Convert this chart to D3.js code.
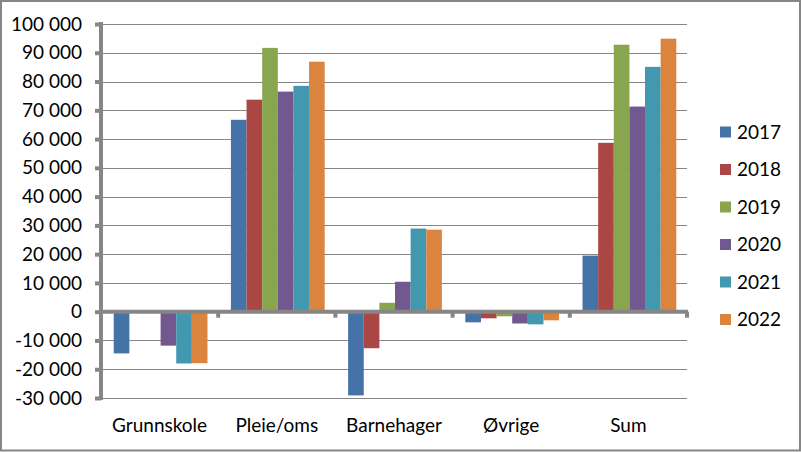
<!DOCTYPE html>
<html>
<head>
<meta charset="utf-8">
<script src="https://cdn.jsdelivr.net/npm/d3@7"></script>
<style>
  body { margin: 0; background: #fff; }
  text { font-family: Lato, "Open Sans", sans-serif; fill: #000; }
</style>
</head>
<body>
<div id="chart"></div>
<script>
// data
const categories = ["Grunnskole", "Pleie/oms", "Barnehager", "Øvrige", "Sum"];
const years = ["2017", "2018", "2019", "2020", "2021", "2022"];
const v2017 = [-14500, 66700, -29100, -3700, 19500];
const v2018 = [0, 73700, -12700, -2300, 58700];
const v2019 = [0, 91700, 3100, -1600, 92800];
const v2020 = [-11800, 76500, 10400, -4100, 71300];
const v2021 = [-18000, 78500, 28900, -4400, 85100];
const v2022 = [-17900, 86900, 28500, -3000, 94900];
const yTicks = [-30000, -20000, -10000, 0, 10000, 20000, 30000, 40000, 50000, 60000, 70000, 80000, 90000, 100000];
const colors = ["#4572A7", "#AA4643", "#89A54E", "#71588F", "#4198AF", "#DB843D"];

const series = [v2017, v2018, v2019, v2020, v2021, v2022];

const W = 801, H = 452;
const plot = { left: 101, right: 687, top: 24, bottom: 398 };
const fontSize = "19px";

const svg = d3.select("#chart").append("svg")
  .attr("width", W).attr("height", H);

// outer frame
svg.append("rect")
  .attr("x", 1).attr("y", 1).attr("width", W - 2).attr("height", H - 2.5)
  .attr("fill", "#fff").attr("stroke", "#868686").attr("stroke-width", 2);

const x = d3.scaleBand()
  .domain(categories)
  .range([plot.left, plot.right])
  .paddingInner(0).paddingOuter(0);

const xs = d3.scaleBand()
  .domain(years)
  .range([0, x.bandwidth()])
  .paddingInner(0).paddingOuter(0.75);

const y = d3.scaleLinear()
  .domain([-30000, 100000])
  .range([plot.bottom, plot.top]);

const loc = d3.formatLocale({ decimal: ",", thousands: " ", grouping: [3], currency: ["", ""], minus: "-" });
const fmt = loc.format(",d");

// gridlines
svg.append("g").selectAll("line")
  .data(yTicks.filter(d => d !== 0))
  .enter().append("line")
  .attr("x1", plot.left).attr("x2", plot.right)
  .attr("y1", d => Math.round(y(d)) + 0.5).attr("y2", d => Math.round(y(d)) + 0.5)
  .attr("stroke", "#868686").attr("stroke-width", 1);

// bars
const rows = [];
series.forEach((vals, i) => {
  vals.forEach((v, j) => rows.push({ year: years[i], cat: categories[j], value: v, i: i }));
});

svg.append("g").selectAll("rect")
  .data(rows)
  .enter().append("rect")
  .attr("x", d => x(d.cat) + xs(d.year) + 1)
  .attr("width", xs.bandwidth())
  .attr("y", d => y(Math.max(0, d.value)))
  .attr("height", d => Math.abs(y(d.value) - y(0)))
  .attr("fill", d => colors[d.i]);

// y axis
const yAxis = d3.axisLeft(y)
  .tickValues(yTicks)
  .tickFormat(fmt)
  .tickSizeInner(6)
  .tickSizeOuter(0)
  .tickPadding(13);

const gy = svg.append("g")
  .attr("transform", `translate(${plot.left},0)`)
  .call(yAxis);
gy.select(".domain").remove();
gy.selectAll(".tick line").attr("stroke", "#868686").attr("stroke-width", 4);
gy.selectAll(".tick text").style("font-size", fontSize).attr("fill", "#000");

svg.append("line")
  .attr("x1", plot.left).attr("x2", plot.left)
  .attr("y1", plot.top - 2).attr("y2", plot.bottom + 2)
  .attr("stroke", "#868686").attr("stroke-width", 4);

// x axis (at zero)
const y0 = y(0);
const bounds = categories.map(c => x(c) + x.bandwidth());
svg.append("g").selectAll("line")
  .data(bounds)
  .enter().append("line")
  .attr("x1", d => d).attr("x2", d => d)
  .attr("y1", y0).attr("y2", y0 + 6)
  .attr("stroke", "#868686").attr("stroke-width", 4);

svg.append("line")
  .attr("x1", plot.left).attr("x2", plot.right + 1)
  .attr("y1", y0).attr("y2", y0)
  .attr("stroke", "#868686").attr("stroke-width", 4);

// category labels
svg.append("g").selectAll("text")
  .data(categories)
  .enter().append("text")
  .attr("x", d => x(d) + x.bandwidth() / 2)
  .attr("y", 432)
  .attr("text-anchor", "middle")
  .style("font-size", fontSize)
  .text(d => d);

// legend
const legend = svg.append("g").selectAll("g")
  .data(years)
  .enter().append("g")
  .attr("transform", (d, i) => `translate(720,${132 + i * 37.5})`);

legend.append("rect")
  .attr("x", 0).attr("y", -5.5).attr("width", 11).attr("height", 11)
  .attr("fill", (d, i) => colors[i]);

legend.append("text")
  .attr("x", 17).attr("y", 0).attr("dy", "0.36em")
  .style("font-size", fontSize)
  .text(d => d);
</script>
</body>
</html>
